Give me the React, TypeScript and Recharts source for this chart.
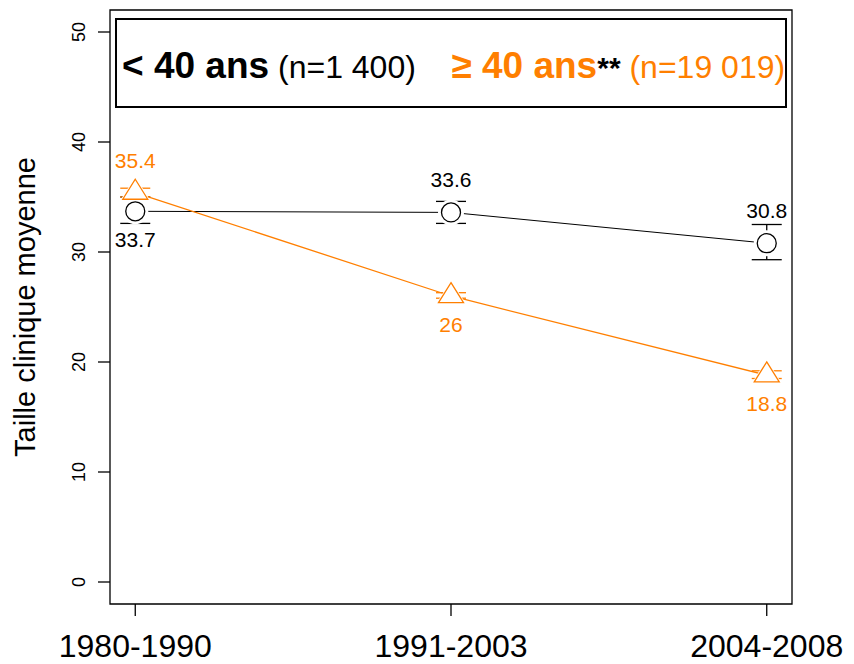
import React from 'react';
import { LineChart, Line, XAxis, YAxis, ErrorBar, ReferenceArea, LabelList, Legend } from 'recharts';

const periods = ['1980-1990', '1991-2003', '2004-2008'];
const positions = [1, 2, 3];
const youngMeans = [33.7, 33.6, 30.8];
const youngLow = [32.6, 32.6, 29.3];
const youngHigh = [35.0, 34.6, 32.5];
const olderMeans = [35.4, 26, 18.8];
const olderLow = [35.0, 25.8, 18.5];
const olderHigh = [35.8, 26.3, 19.2];
const yTicks = [0, 10, 20, 30, 40, 50];
const youngLabelSide = ['below', 'above', 'above'];
const olderLabelSide = ['above', 'below', 'below'];

const ORANGE = '#FF7F00';
const FONT = 'Arial, "Liberation Sans", Helvetica, sans-serif';

const data = positions.map((x, i) => ({
  x,
  young: youngMeans[i],
  youngErr: [youngMeans[i] - youngLow[i], youngHigh[i] - youngMeans[i]],
  older: olderMeans[i],
  olderErr: [olderMeans[i] - olderLow[i], olderHigh[i] - olderMeans[i]],
}));

const tri = (cx: number, cy: number, hw: number, h: number) =>
  `M${cx},${cy - (2 * h) / 3} L${cx + hw},${cy + h / 3} L${cx - hw},${cy + h / 3} Z`;

const XTick = (props: any) => {
  const { x, y, payload } = props;
  const idx = positions.indexOf(payload.value);
  return (
    <text x={x} y={y + 41} textAnchor="middle" fontSize={32} fontFamily={FONT} fill="#000">
      {periods[idx]}
    </text>
  );
};

const YTick = (props: any) => {
  const { x, y, payload } = props;
  return (
    <text
      transform={`translate(${x - 13},${y}) rotate(-90)`}
      textAnchor="middle"
      fontSize={18}
      fontFamily={FONT}
      fill="#000"
    >
      {payload.value}
    </text>
  );
};

const YLabel = (props: any) => {
  const vb = props.viewBox || { x: 0, y: 10, width: 110, height: 594 };
  const cy = vb.y + vb.height / 2;
  return (
    <text
      transform={`translate(35,${cy}) rotate(-90)`}
      textAnchor="middle"
      fontSize={29}
      fontFamily={FONT}
      fill="#000"
    >
      Taille clinique moyenne
    </text>
  );
};

const makeLabel = (color: string, sides: string[]) => (props: any) => {
  const { x, y, value, index } = props;
  const below = sides[index] === 'below';
  return (
    <text
      key={`lbl-${color}-${index}`}
      x={x}
      y={y + (below ? 36 : -25)}
      textAnchor="middle"
      fontSize={21}
      fontFamily={FONT}
      fill={color}
    >
      {value}
    </text>
  );
};

const LegendBox = () => (
  <div
    style={{
      boxSizing: 'border-box',
      width: 672,
      height: 90,
      border: '2px solid #000',
      background: '#fff',
      fontFamily: FONT,
      whiteSpace: 'pre',
      position: 'relative',
    }}
  >
    <div style={{ position: 'absolute', left: 5, top: 46, lineHeight: 0 }}>
      <span style={{ fontWeight: 'bold', fontSize: 37, color: '#000' }}>{'< 40 ans'}</span>
      <span style={{ fontSize: 32, color: '#000' }}>{' (n=1 400)'}</span>
      <span style={{ fontSize: 32 }}>{'    '}</span>
      <span style={{ fontWeight: 'bold', fontSize: 37, color: ORANGE }}>{'\u2265 40 ans'}</span>
      <span style={{ fontWeight: 'bold', fontSize: 30, color: '#000' }}>{'**'}</span>
      <span style={{ fontSize: 32, color: ORANGE }}>{' (n=19 019)'}</span>
    </div>
  </div>
);

export default function App() {
  return (
    <div style={{ position: 'absolute', left: 0, top: 0, background: '#fff' }}>
      <LineChart width={854} height={664} data={data} margin={{ top: 10, right: 62, bottom: 0, left: 0 }}>
        <XAxis
          dataKey="x"
          type="number"
          domain={[0.92, 3.08]}
          ticks={positions}
          allowDataOverflow
          axisLine={false}
          tickSize={12}
          tickMargin={0}
          tickLine={{ stroke: '#000', strokeWidth: 1.3 }}
          tick={<XTick />}
          height={60}
          interval={0}
        />
        <YAxis
          type="number"
          domain={[-2, 52]}
          ticks={yTicks}
          allowDataOverflow
          axisLine={false}
          tickSize={12}
          tickMargin={0}
          tickLine={{ stroke: '#000', strokeWidth: 1.3 }}
          tick={<YTick />}
          width={110}
          interval={0}
          label={<YLabel />}
        />
        <ReferenceArea
          x1={0.92}
          x2={3.08}
          y1={-2}
          y2={52}
          fill="none"
          fillOpacity={0}
          stroke="#000"
          strokeWidth={1.3}
          ifOverflow="visible"
        />
        <Legend
          verticalAlign="middle"
          align="center"
          layout="horizontal"
          wrapperStyle={{ left: 115, top: 18, width: 672, height: 90 }}
          content={() => <LegendBox />}
        />
        <Line
          dataKey="young"
          stroke="#000"
          strokeWidth={1}
          isAnimationActive={false}
          activeDot={false}
          legendType="none"
          dot={(p: any) => <circle key={`yb-${p.index}`} cx={p.cx} cy={p.cy} r={13} fill="#fff" stroke="none" />}
        />
        <Line
          dataKey="young"
          stroke="none"
          isAnimationActive={false}
          activeDot={false}
          legendType="none"
          dot={(p: any) => (
            <circle key={`yc-${p.index}`} cx={p.cx} cy={p.cy} r={9.5} fill="none" stroke="#000" strokeWidth={1.3} />
          )}
        >
          <ErrorBar dataKey="youngErr" width={15} stroke="#000" strokeWidth={1.3} direction="y" />
          <LabelList dataKey="young" content={makeLabel('#000', youngLabelSide)} />
        </Line>
        <Line
          dataKey="older"
          stroke={ORANGE}
          strokeWidth={1.3}
          isAnimationActive={false}
          activeDot={false}
          legendType="none"
          dot={(p: any) => <path key={`ob-${p.index}`} d={tri(p.cx, p.cy, 15, 24)} fill="#fff" stroke="none" />}
        />
        <Line
          dataKey="older"
          stroke="none"
          isAnimationActive={false}
          activeDot={false}
          legendType="none"
          dot={(p: any) => (
            <path key={`ot-${p.index}`} d={tri(p.cx, p.cy, 12.5, 20)} fill="none" stroke={ORANGE} strokeWidth={1.3} />
          )}
        >
          <ErrorBar dataKey="olderErr" width={15} stroke={ORANGE} strokeWidth={1.3} direction="y" />
          <LabelList dataKey="older" content={makeLabel(ORANGE, olderLabelSide)} />
        </Line>
      </LineChart>
    </div>
  );
}
